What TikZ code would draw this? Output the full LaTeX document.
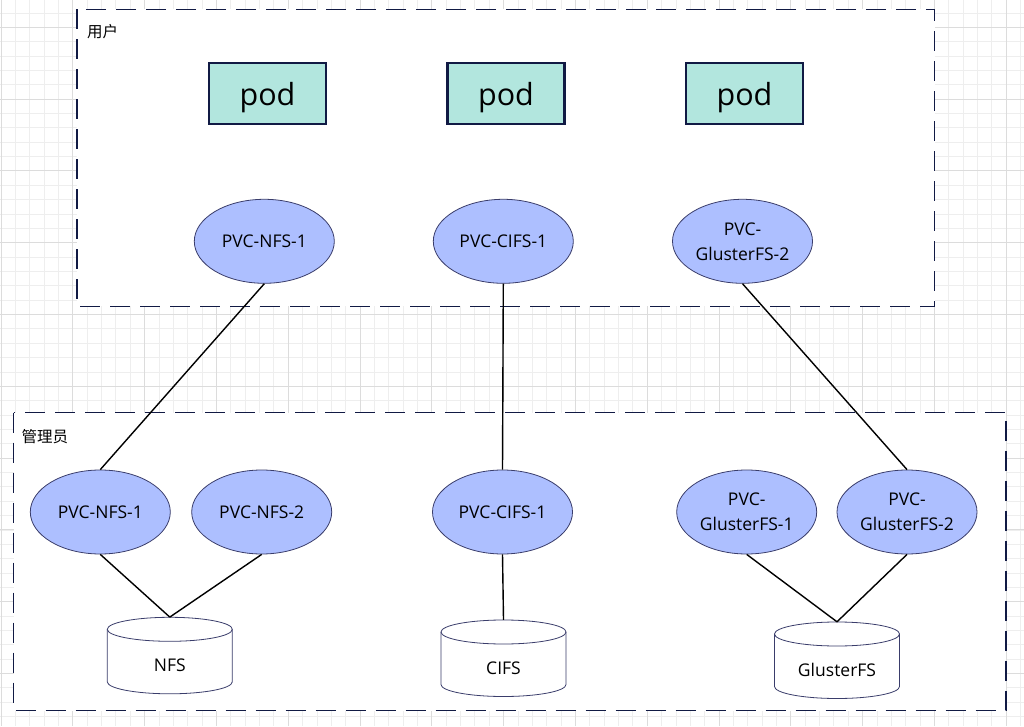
\documentclass[tikz,border=0pt]{standalone}
\usepackage{fontspec}
\setmainfont{Open Sans}
\newfontfamily\cjk{Noto Sans CJK SC}
\usetikzlibrary{shapes.geometric}
\definecolor{navy}{HTML}{111A44}
\definecolor{podfill}{HTML}{B2E6DE}
\definecolor{pvcfill}{HTML}{ADBFFF}
\definecolor{pvcline}{HTML}{3A3D6B}
\definecolor{gridminor}{HTML}{EEEEEE}
\definecolor{gridmajor}{HTML}{DCDCDC}
\newcommand\mycyl[4]{%
 \path[cylline] (#2-62.5,#3-12) -- (#2-62.5,#3-64.5) arc[start angle=180,end angle=360,x radius=62.5,y radius=12] -- (#2+62.5,#3-12) arc[start angle=0,end angle=180,x radius=62.5,y radius=12] -- cycle;
 \draw[cylline,fill=none] (#2-62.5,#3-12) arc[start angle=180,end angle=360,x radius=62.5,y radius=12];
 \node[cylnode,label={[cyltext]center:#4}] (#1) at (#2,#3-38.25) {};
}
\begin{document}
\begin{tikzpicture}[x=1pt,y=1pt,
 podbox/.style={draw=navy, line width=2.7pt, fill=podfill, minimum width=117pt, minimum height=61pt, inner sep=0pt, text height=24pt, text depth=0pt, font=\fontsize{30.5}{36}\selectfont},
 pvc/.style={ellipse, draw=pvcline, line width=0.8pt, fill=pvcfill, minimum width=140pt, minimum height=84pt, inner sep=0pt, font=\fontsize{17.5}{25}\selectfont, align=center},
 zone/.style={draw=navy, line width=1.3pt, dash pattern=on 20pt off 10pt, fill=white},
 link/.style={draw=black, line width=1.4pt},
 cylline/.style={draw=pvcline, line width=0.8pt, fill=white},
 cylnode/.style={minimum width=125pt, minimum height=76.5pt, inner sep=0pt},
 cyltext/.style={font=\fontsize{17.5}{21}\selectfont, yshift=-10pt},
 zonelabel/.style={font=\cjk\fontsize{15.5}{18}\selectfont, anchor=west, inner sep=0pt},
]
\fill[white] (0,0) rectangle (1024,726);
\useasboundingbox (0,0) rectangle (1024,726);
% grid
\foreach \i in {0,...,71} {\draw[gridminor, line width=0.8pt] ({1+14.36*\i},0) -- ({1+14.36*\i},726);}
\foreach \k in {0,...,51} {\draw[gridminor, line width=0.8pt] (0,{727.42-14.36*\k}) -- (1024,{727.42-14.36*\k});}
\foreach \m in {0,...,14} {\draw[gridmajor, line width=0.9pt] ({1+71.8*\m},0) -- ({1+71.8*\m},726);}
\foreach \m in {0,...,9} {\draw[gridmajor, line width=0.9pt] (0,{698.7-71.8*\m}) -- (1024,{698.7-71.8*\m});}
% zones
\draw[zone] (77,716.5) rectangle (934.5,419.5);
\draw[zone] (13.5,313.5) rectangle (1006,15.5);
\node[zonelabel] (luser) at (87,694) {用户};
\node[zonelabel] (ladmin) at (21.5,289) {管理员};
% pods
\node[podbox] (pod1) at (267.5,632.5) {pod};
\node[podbox] (pod2) at (506,632.5) {pod};
\node[podbox] (pod3) at (744.5,632.5) {pod};
% user pvcs
\node[pvc] (unfs) at (264.3,484.7) {PVC-NFS-1};
\node[pvc] (ucifs) at (503.3,484.7) {PVC-CIFS-1};
\node[pvc] (ugl) at (742.5,484.7) {PVC-\\GlusterFS-2};
% admin pvcs
\node[pvc] (anfsa) at (100.3,214) {PVC-NFS-1};
\node[pvc] (anfsb) at (261.7,214) {PVC-NFS-2};
\node[pvc] (acifs) at (502.5,214) {PVC-CIFS-1};
\node[pvc] (agla) at (746.7,214) {PVC-\\GlusterFS-1};
\node[pvc] (aglb) at (907,214) {PVC-\\GlusterFS-2};
% storage
\mycyl{snfs}{169.8}{108.7}{NFS}
\mycyl{scifs}{503.5}{106}{CIFS}
\mycyl{sgl}{837}{104}{GlusterFS}
% links
\draw[link] (unfs.south) -- (anfsa.north);
\draw[link] (ucifs.south) -- (acifs.north);
\draw[link] (ugl.south) -- (aglb.north);
\draw[link] (anfsa.south) -- (snfs.north);
\draw[link] (anfsb.south) -- (snfs.north);
\draw[link] (acifs.south) -- (scifs.north);
\draw[link] (agla.south) -- (sgl.north);
\draw[link] (aglb.south) -- (sgl.north);
\end{tikzpicture}
\end{document}
